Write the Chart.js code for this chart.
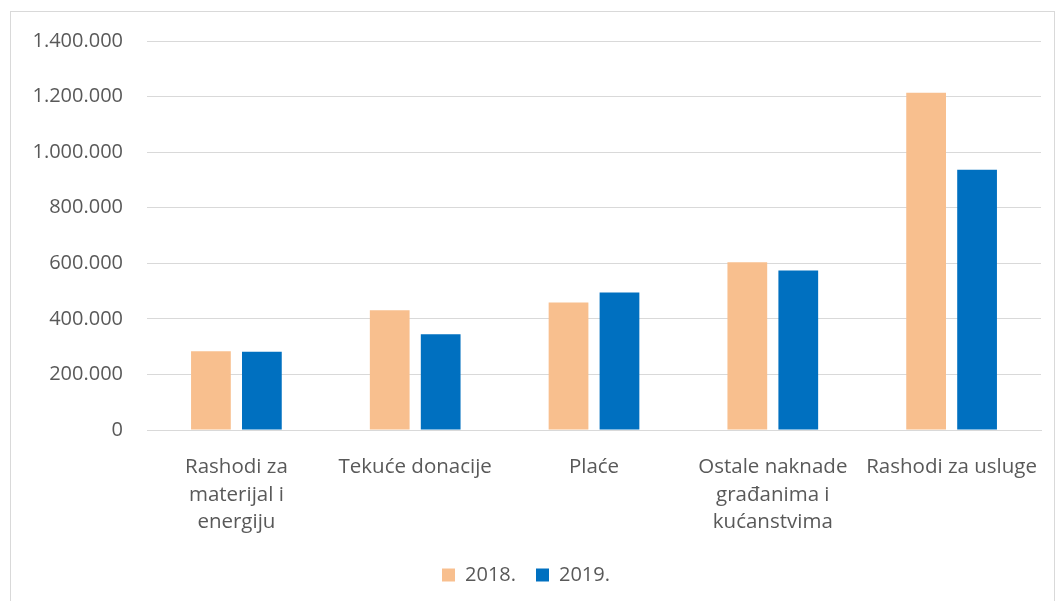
<!DOCTYPE html>
<html>
<head>
<meta charset="utf-8">
<script src="https://cdn.jsdelivr.net/npm/chart.js@4.4.1/dist/chart.umd.min.js"></script>
<style>
  html, body { margin: 0; padding: 0; background: #fff; }
  #frame {
    position: absolute;
    left: 10px; top: 11px;
    width: 1045px; height: 600px;
    border: 1px solid #d9d9d9;
    box-sizing: border-box;
  }
  #frame canvas { display: block; }
</style>
</head>
<body>
<div id="frame"><canvas id="chart"></canvas></div>
<script>
// categories (multi-line labels as in the original)
const categories = [
  ['Rashodi za', 'materijal i', 'energiju'],
  'Tekuće donacije',
  'Plaće',
  ['Ostale naknade', 'građanima i', 'kućanstvima'],
  'Rashodi za usluge'
];
const values2018 = [283000, 431000, 459000, 604000, 1214000];
const values2019 = [282000, 345000, 495000, 574000, 937000];
const seriesNames = ['2018.', '2019.'];
const yMax = 1400000;
const yStep = 200000;

const textColor = '#595959';
const fontFamily = '"Open Sans", "Liberation Sans", sans-serif';

function fmt(v) {
  return String(v).replace(/\B(?=(\d{3})+(?!\d))/g, '.');
}

const ctx = document.getElementById('chart').getContext('2d');
new Chart(ctx, {
  type: 'bar',
  data: {
    labels: categories,
    datasets: [
      {
        label: seriesNames[0],
        data: values2018,
        backgroundColor: '#F8BF8E',
        categoryPercentage: 0.57,
        barPercentage: 0.78
      },
      {
        label: seriesNames[1],
        data: values2019,
        backgroundColor: '#0070C0',
        categoryPercentage: 0.57,
        barPercentage: 0.78
      }
    ]
  },
  options: {
    responsive: true,
    maintainAspectRatio: false,
    animation: false,
    layout: { padding: { top: 0, right: 13, bottom: 15, left: 0 } },
    plugins: {
      legend: {
        position: 'bottom',
        labels: {
          color: textColor,
          font: { family: fontFamily, size: 20 },
          boxWidth: 13,
          boxHeight: 13,
          padding: 20
        }
      },
      tooltip: { enabled: false }
    },
    scales: {
      x: {
        grid: { display: false },
        border: { color: '#d9d9d9' },
        ticks: {
          color: textColor,
          font: { family: fontFamily, size: 20.5, lineHeight: 1.33 },
          maxRotation: 0,
          autoSkip: false,
          padding: 16
        },
        afterFit: s => { s.height = 115; s.paddingLeft = 0; s.paddingRight = 0; }
      },
      y: {
        min: 0,
        max: yMax,
        border: { display: false },
        grid: { color: '#d9d9d9', drawTicks: false, lineWidth: 1 },
        ticks: {
          stepSize: yStep,
          color: textColor,
          font: { family: fontFamily, size: 20 },
          padding: 24,
          callback: v => fmt(v)
        },
        afterFit: s => { s.width = 136; s.paddingTop = 29; s.paddingBottom = 0; }
      }
    }
  }
});
</script>
</body>
</html>
